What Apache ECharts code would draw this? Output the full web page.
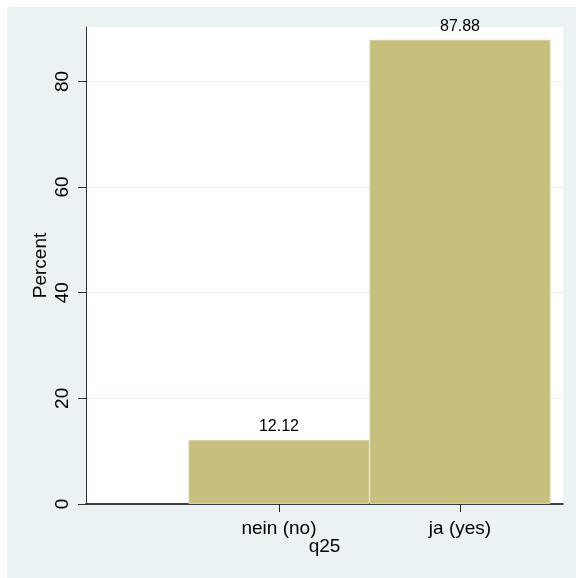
<!DOCTYPE html>
<html>
<head>
<meta charset="utf-8">
<script src="https://cdn.jsdelivr.net/npm/echarts@6/dist/echarts.min.js"></script>
<style>
html,body{margin:0;padding:0;background:#ffffff;}
#wrap{position:relative;width:576px;height:578px;background:#ffffff;overflow:hidden;}
#chart{position:absolute;left:7px;top:7px;width:569px;height:571px;}
</style>
</head>
<body>
<div id="wrap"><div id="chart"></div></div>
<script>
const categories = ['nein (no)', 'ja (yes)'];
const catPositions = [0, 1];
const percents = [12.12, 87.88];
const yTicks = [0, 20, 40, 60, 80];
const xTitle = 'q25';
const yTitle = 'Percent';

const font = 'Liberation Sans, Arial, Helvetica, sans-serif';
const chart = echarts.init(document.getElementById('chart'), null, {renderer: 'canvas'});
chart.setOption({
  backgroundColor: '#eaf2f3',
  animation: false,
  grid: {left: 79, top: 20, right: 13, bottom: 74, show: true, backgroundColor: '#ffffff', borderWidth: 0},
  xAxis: {
    type: 'value',
    min: -1.066,
    max: 1.569,
    name: xTitle,
    nameLocation: 'middle',
    nameGap: 33,
    nameMoveOverlap: false,
    nameTextStyle: {fontFamily: font, fontSize: 19, color: '#000'},
    axisLine: {show: true, onZero: false, lineStyle: {color: '#000', width: 1.5}},
    axisTick: {show: true, length: 8, customValues: catPositions, lineStyle: {color: '#222'}},
    axisLabel: {
      customValues: catPositions,
      margin: 15,
      fontFamily: font, fontSize: 19, color: '#000',
      formatter: v => { const i = catPositions.indexOf(Math.round(v)); return i >= 0 ? categories[i] : ''; }
    },
    splitLine: {show: false}
  },
  yAxis: {
    type: 'value',
    min: 0,
    max: 90.3,
    name: yTitle,
    nameLocation: 'middle',
    nameGap: 36,
    nameRotate: 90,
    nameMoveOverlap: false,
    nameTextStyle: {fontFamily: font, fontSize: 19, color: '#000'},
    axisLine: {show: true, onZero: false, lineStyle: {color: '#333', width: 1}},
    axisTick: {show: true, length: 8, customValues: yTicks, lineStyle: {color: '#333'}},
    axisLabel: {customValues: yTicks, rotate: 90, margin: 14, fontFamily: font, fontSize: 19, color: '#000'},
    splitLine: {show: true, lineStyle: {color: '#eaf2f3', width: 1}}
  },
  series: [{
    type: 'bar',
    barWidth: 181,
    data: catPositions.map((x, i) => [x, percents[i]]),
    itemStyle: {color: '#c6bf7e', borderColor: '#d8d2a4', borderWidth: 1},
    label: {
      show: true, position: 'top', distance: 5,
      fontFamily: font, fontSize: 16, color: '#000',
      formatter: p => p.value[1].toFixed(2)
    }
  }]
});
</script>
</body>
</html>
